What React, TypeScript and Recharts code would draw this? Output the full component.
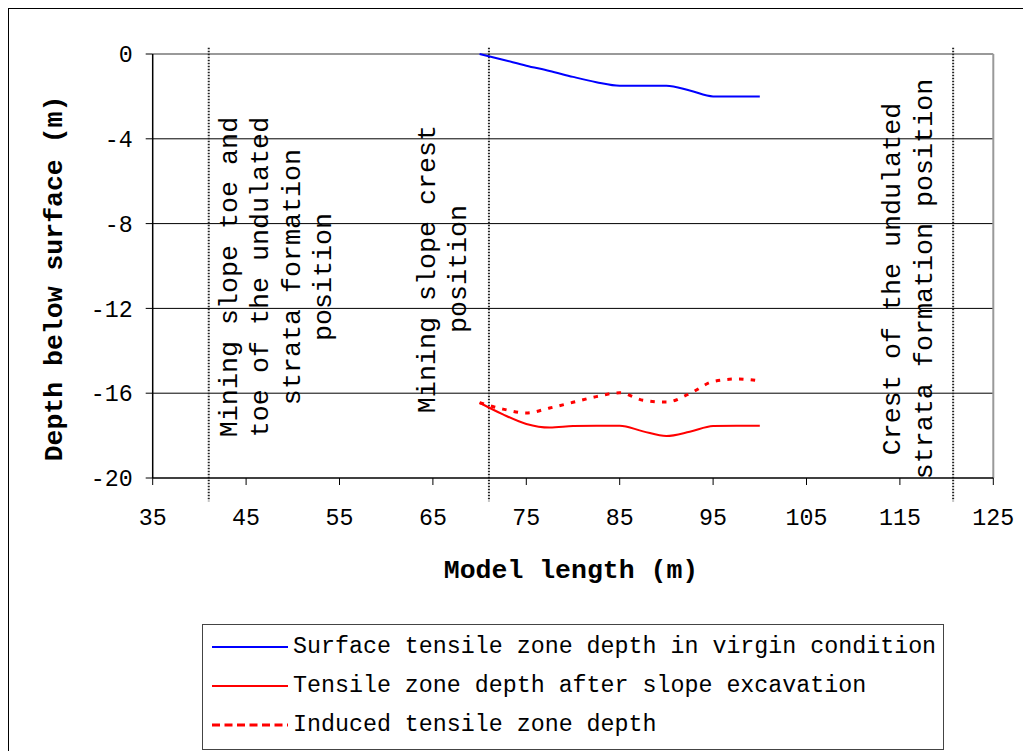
import React from 'react';
import { LineChart, Line, XAxis, YAxis, CartesianGrid, ReferenceLine } from 'recharts';

// Model length (m) at which depths were sampled
const modelLength = [70, 72.5, 75, 77.5, 80, 82.5, 85, 87.5, 90, 92.5, 95, 97.5, 100];
// Depth below surface (m)
const virginDepth = [0, -0.27, -0.55, -0.8, -1.08, -1.33, -1.5, -1.5, -1.5, -1.72, -2.0, -2.0, -2.0];
const afterExcavationDepth = [-16.45, -17.0, -17.45, -17.62, -17.55, -17.53, -17.53, -17.8, -18.02, -17.82, -17.55, -17.53, -17.53];
const inducedDepth = [-16.45, -16.75, -16.93, -16.7, -16.43, -16.16, -15.98, -16.33, -16.42, -16.02, -15.45, -15.33, -15.42];

const xTicks = [35, 45, 55, 65, 75, 85, 95, 105, 115, 125];
const yTicks = [-20, -16, -12, -8, -4, 0];
const gridDepths = [-4, -8, -12, -16];

const markerPositions = [41, 71, 120.7];
const markerTexts = [
  ['Mining slope toe and', 'toe of the undulated', 'strata formation', 'position'],
  ['Mining slope crest', 'position'],
  ['Crest of the undulated', 'strata formation position'],
];

const seriesNames = [
  'Surface tensile zone depth in virgin condition',
  'Tensile zone depth after slope excavation',
  'Induced tensile zone depth',
];

const FONT = "'Liberation Mono', 'Courier New', monospace";
const BLUE = '#0000ff';
const RED = '#ff0000';

const data = modelLength.map((x, i) => ({
  x,
  virgin: virginDepth[i],
  after: afterExcavationDepth[i],
  induced: inducedDepth[i],
}));

// where the rotated annotation text sits next to each dotted line
const labelLayout = [
  { dx: 28, cy: 269 },
  { dx: -54.4, cy: 261 },
  { dx: -52.7, cy: 271 },
];

const makeMarkerLabel = (lines: string[], dx: number, cy: number) => (props: any) => {
  const vx = props.viewBox ? props.viewBox.x : 0;
  return (
    <g>
      {lines.map((t, i) => {
        const x = vx + dx + i * 31.5;
        return (
          <text
            key={t}
            x={x}
            y={cy}
            transform={`rotate(-90 ${x} ${cy})`}
            textAnchor="middle"
            fontSize={26.7}
            fontFamily={FONT}
            fill="#000"
          >
            {t}
          </text>
        );
      })}
    </g>
  );
};

const Legend = () => {
  const samples = [
    { stroke: BLUE, width: 2, dash: undefined },
    { stroke: RED, width: 2, dash: undefined },
    { stroke: RED, width: 3, dash: '8 4.5' },
  ];
  return (
    <div
      style={{
        position: 'absolute',
        left: 194,
        top: 616,
        width: 740,
        height: 124,
        border: '1px solid #444',
        background: '#fff',
      }}
    >
      {seriesNames.map((name, i) => (
        <div
          key={name}
          style={{
            position: 'absolute',
            left: 9,
            top: 2.5 + i * 39,
            height: 39,
            display: 'flex',
            alignItems: 'center',
            whiteSpace: 'pre',
          }}
        >
          <svg width={76} height={10} style={{ display: 'block' }}>
            <line
              x1={0}
              y1={5}
              x2={76}
              y2={5}
              stroke={samples[i].stroke}
              strokeWidth={samples[i].width}
              strokeDasharray={samples[i].dash}
            />
          </svg>
          <span style={{ marginLeft: 5, fontFamily: FONT, fontSize: 23.3, color: '#000' }}>{name}</span>
        </div>
      ))}
    </div>
  );
};

const App = () => {
  return (
    <div style={{ position: 'relative', width: 1023, height: 743, background: '#fff' }}>
      <style>{'html, body { overflow: hidden; }'}</style>
      <div
        style={{
          position: 'absolute',
          left: 0,
          top: 0,
          right: 0,
          bottom: 0,
          borderLeft: '1px solid #000',
          borderTop: '1px solid #000',
          pointerEvents: 'none',
        }}
      />
      <div style={{ position: 'absolute', left: 0, top: 0 }}>
        <LineChart
          width={1023}
          height={743}
          data={data}
          margin={{ top: 46, right: 37.7, left: 84.7, bottom: 213 }}
        >
          <CartesianGrid horizontal vertical={false} horizontalValues={gridDepths} stroke="#000" strokeWidth={1} />
          <ReferenceLine y={0} stroke="#999" strokeWidth={2} />
          <ReferenceLine x={125} stroke="#999" strokeWidth={2} />
          <XAxis
            dataKey="x"
            type="number"
            domain={[35, 125]}
            ticks={xTicks}
            height={60}
            axisLine={{ stroke: '#000', strokeWidth: 1.5 }}
            tickLine={{ stroke: '#000', strokeWidth: 1 }}
            tickSize={7}
            tickMargin={23}
            tick={{ fontSize: 23.3, fontFamily: FONT, fill: '#000' }}
            label={(props: any) => {
              const vb = props.viewBox;
              return (
                <text
                  x={vb.x + vb.width / 2 - 2}
                  y={569.5}
                  textAnchor="middle"
                  fontSize={26.5}
                  fontWeight="bold"
                  fontFamily={FONT}
                  fill="#000"
                >
                  Model length (m)
                </text>
              );
            }}
          />
          <YAxis
            type="number"
            domain={[-20, 0]}
            ticks={yTicks}
            width={60}
            axisLine={{ stroke: '#000', strokeWidth: 1.5 }}
            tickLine={{ stroke: '#000', strokeWidth: 1 }}
            tickSize={7}
            tickMargin={13}
            tick={{ fontSize: 23.3, fontFamily: FONT, fill: '#000' }}
            label={() => (
              <text
                x={53.7}
                y={270.5}
                transform="rotate(-90 53.7 270.5)"
                textAnchor="middle"
                fontSize={26.5}
                fontWeight="bold"
                fontFamily={FONT}
                fill="#000"
              >
                Depth below surface (m)
              </text>
            )}
          />
          {markerPositions.map((mx, i) => (
            <ReferenceLine
              key={mx}
              segment={[{ x: mx, y: 0.3 }, { x: mx, y: -21.1 }]}
              ifOverflow="visible"
              stroke="#222"
              strokeWidth={2}
              strokeDasharray="1.5 1.5"
              label={makeMarkerLabel(markerTexts[i], labelLayout[i].dx, labelLayout[i].cy)}
            />
          ))}
          <Line
            type="monotone"
            dataKey="virgin"
            stroke={BLUE}
            strokeWidth={2}
            dot={false}
            isAnimationActive={false}
          />
          <Line
            type="monotone"
            dataKey="after"
            stroke={RED}
            strokeWidth={2}
            dot={false}
            isAnimationActive={false}
          />
          <Line
            type="monotone"
            dataKey="induced"
            stroke={RED}
            strokeWidth={3}
            strokeDasharray="4.5 7.2"
            dot={false}
            isAnimationActive={false}
          />
        </LineChart>
      </div>
      <Legend />
    </div>
  );
};

export default App;
